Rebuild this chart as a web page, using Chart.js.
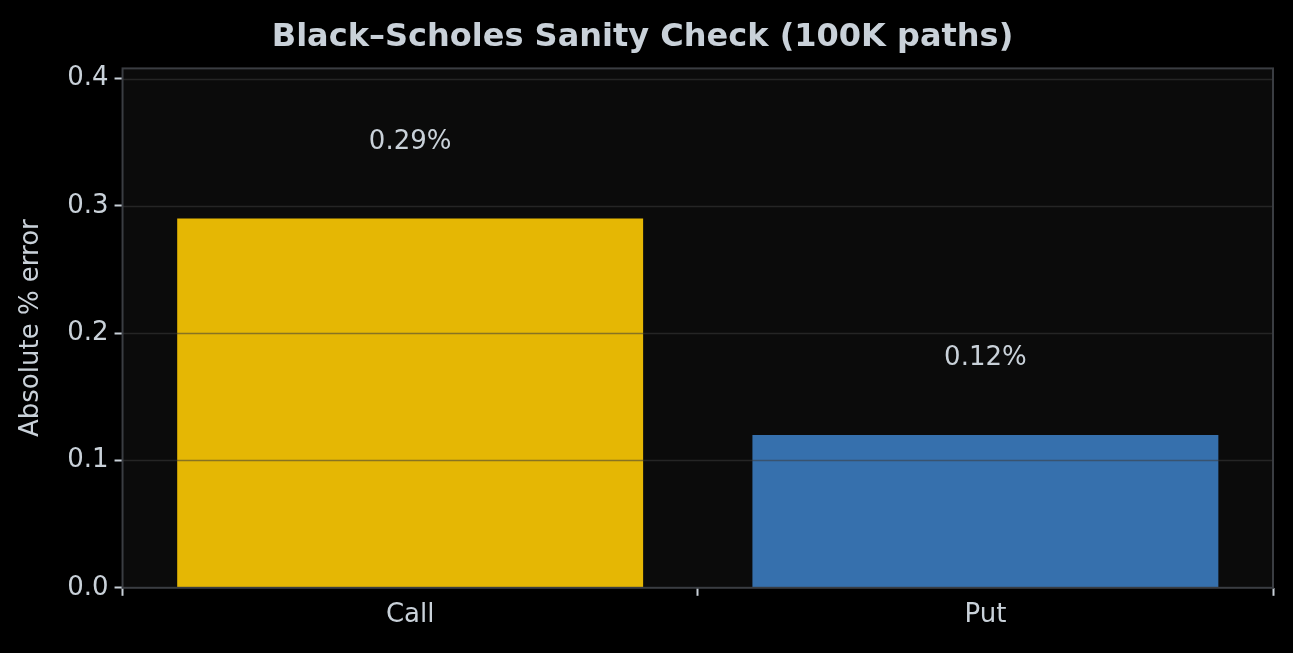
<!DOCTYPE html>
<html>
<head>
<meta charset="utf-8">
<script src="https://cdn.jsdelivr.net/npm/chart.js@4"></script>
<style>
  html, body { margin: 0; background: #000; }
  #wrap { width: 1293px; height: 653px; }
</style>
</head>
<body>
<div id="wrap"><canvas id="c"></canvas></div>
<script>
const categories = ['Call', 'Put'];
const errors = [0.29, 0.12];
const yTicks = [0.0, 0.1, 0.2, 0.3, 0.4];
const barColors = ['#e5b704', '#3670ad'];

// plot background + border, grid drawn over bars like the original
const plotArea = {
  id: 'plotArea',
  beforeDraw(chart) {
    const { ctx, chartArea: a } = chart;
    ctx.save();
    ctx.fillStyle = '#0b0b0b';
    ctx.fillRect(a.left, a.top, a.right - a.left, a.bottom - a.top);
    ctx.restore();
  },
  afterDatasetsDraw(chart) {
    const { ctx, chartArea: a, scales } = chart;
    ctx.save();
    ctx.strokeStyle = 'rgba(60,60,60,0.55)';
    ctx.lineWidth = 1.5;
    yTicks.slice(1).forEach(t => {
      const y = Math.round(scales.y.getPixelForValue(t)) + 0.5;
      ctx.beginPath(); ctx.moveTo(a.left, y); ctx.lineTo(a.right, y); ctx.stroke();
    });
    ctx.strokeStyle = '#3a3d42';
    ctx.lineWidth = 2;
    ctx.strokeRect(a.left, a.top, a.right - a.left, a.bottom - a.top);
    // value labels
    ctx.fillStyle = '#c9d1d9';
    ctx.font = '26px "DejaVu Sans"';
    ctx.textAlign = 'center';
    ctx.textBaseline = 'middle';
    chart.getDatasetMeta(0).data.forEach((bar, i) => {
      ctx.fillText(errors[i].toFixed(2) + '%', bar.x, scales.y.getPixelForValue(errors[i] + 0.06));
    });
    ctx.restore();
  }
};

const tickGrid = { display: true, drawOnChartArea: false, drawTicks: true, tickLength: 8, tickWidth: 2, tickColor: '#c9d1d9' };

new Chart(document.getElementById('c'), {
  type: 'bar',
  data: {
    labels: categories,
    datasets: [{ data: errors, backgroundColor: barColors, barPercentage: 0.81, categoryPercentage: 1 }]
  },
  plugins: [plotArea],
  options: {
    responsive: true,
    maintainAspectRatio: false,
    animation: false,
    layout: { padding: { left: 12, right: 20, top: 0, bottom: 18 } },
    plugins: {
      legend: { display: false },
      tooltip: { enabled: false },
      title: {
        display: true,
        text: 'Black–Scholes Sanity Check (100K paths)',
        color: '#c9d1d9',
        font: { family: 'DejaVu Sans', size: 32, weight: 'bold' },
        padding: { top: 18, bottom: 12 }
      }
    },
    scales: {
      x: {
        grid: tickGrid,
        border: { display: false },
        ticks: { color: '#c9d1d9', font: { family: 'DejaVu Sans', size: 26 }, padding: 4 }
      },
      y: {
        min: 0,
        max: 0.408,
        afterBuildTicks(scale) { scale.ticks = yTicks.map(v => ({ value: v })); },
        grid: tickGrid,
        border: { display: false },
        title: {
          display: true,
          text: 'Absolute % error',
          color: '#c9d1d9',
          font: { family: 'DejaVu Sans', size: 26 },
          padding: { bottom: 14 }
        },
        ticks: {
          color: '#c9d1d9',
          font: { family: 'DejaVu Sans', size: 26 },
          padding: 6,
          callback: v => v.toFixed(1)
        }
      }
    }
  }
});
</script>
</body>
</html>
